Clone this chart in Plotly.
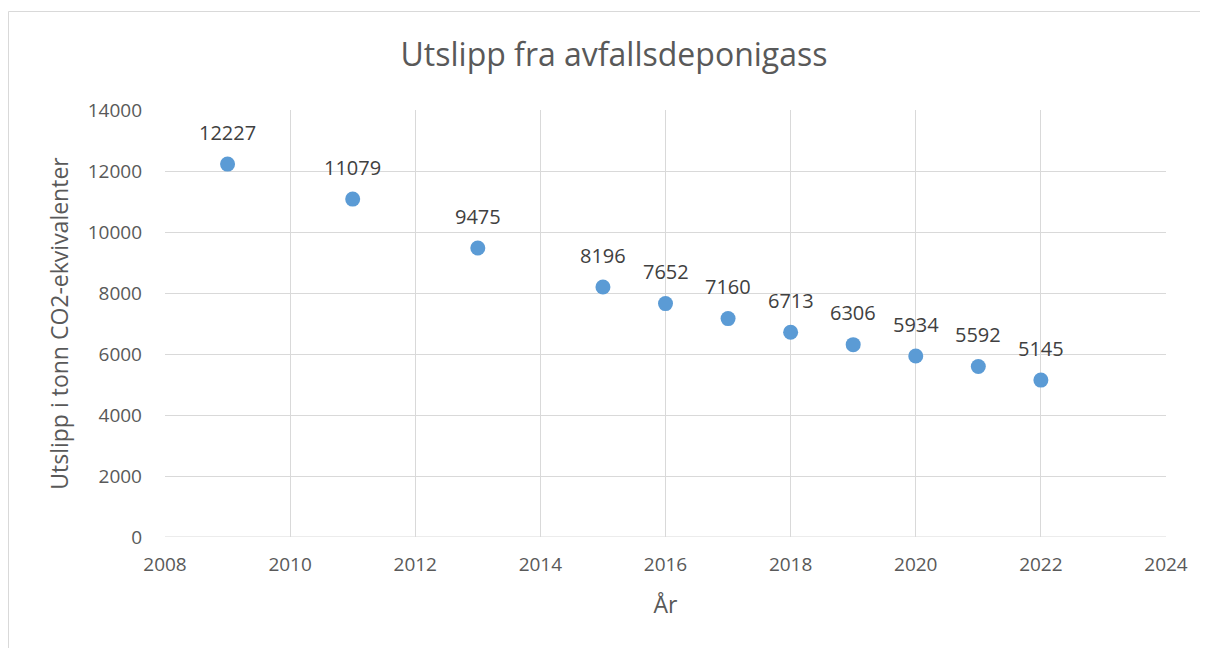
import plotly.graph_objects as go

years = [2009, 2011, 2013, 2015, 2016, 2017, 2018, 2019, 2020, 2021, 2022]
emissions = [12227, 11079, 9475, 8196, 7652, 7160, 6713, 6306, 5934, 5592, 5145]
labels = [str(v) for v in emissions]

FONT = "Open Sans, Noto Sans, sans-serif"

fig = go.Figure()
fig.add_trace(go.Scatter(
    x=years, y=emissions, mode="markers",
    marker=dict(size=15, color="#5B9BD5"),
    cliponaxis=False, showlegend=False, hoverinfo="x+y",
))

for x, y, t in zip(years, emissions, labels):
    fig.add_annotation(x=x, y=y, text=t, showarrow=False, yshift=32,
                       font=dict(family=FONT, size=20, color="#404040"))

# page has an 8px body margin, so the figure is 1200x640 placed at (8,8)
fig.update_layout(
    width=1200, height=640,
    paper_bgcolor="white", plot_bgcolor="white",
    margin=dict(l=157, r=42, t=102, b=111),
    font=dict(family=FONT, color="#595959"),
    title=dict(text="Utslipp fra avfallsdeponigass", x=0.505, xanchor="center",
               y=1 - 47/640, yanchor="middle", font=dict(size=32, color="#595959")),
    xaxis=dict(range=[2008, 2024], dtick=2, showgrid=True, gridcolor="#D9D9D9", gridwidth=1,
               zeroline=False, showline=False, ticks="", ticklabelstandoff=14,
               tickfont=dict(size=19, color="#595959"),
               title=dict(text="År", font=dict(size=23, color="#595959"), standoff=20)),
    yaxis=dict(range=[0, 14000], dtick=2000, tickformat="d", showgrid=True, gridcolor="#D9D9D9",
               zeroline=False, showline=False, ticks="", ticklabelstandoff=22,
               tickfont=dict(size=19, color="#595959"),
               title=dict(text="Utslipp i tonn CO2-ekvivalenter", font=dict(size=23, color="#595959"), standoff=12)),
)
fig.add_shape(type="line", xref="paper", yref="y", x0=0, x1=1, y0=0, y1=0,
              line=dict(color="#D9D9D9", width=1))
fig.add_shape(type="rect", xref="paper", yref="paper",
              x0=(0.5 - 157) / 1001, x1=1.2, y0=-0.5, y1=(529 - 3.5) / 427,
              line=dict(color="#D9D9D9", width=1), fillcolor="rgba(0,0,0,0)", layer="below")

fig.write_html("out.html")
